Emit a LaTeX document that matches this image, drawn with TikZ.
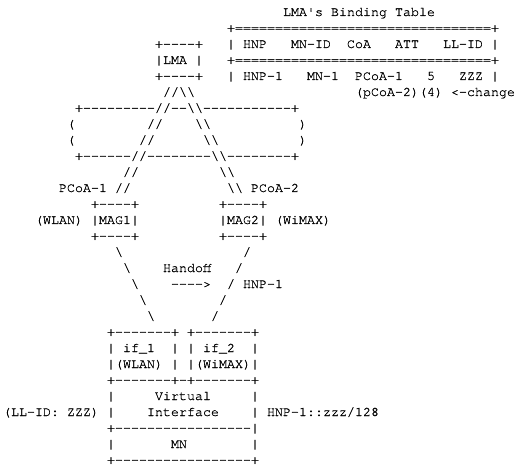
\documentclass[tikz,border=0pt]{standalone}
\usepackage{fontspec}
\setmonofont[FakeBold=0.8]{TeX Gyre Cursor}
\newcommand\bs{\textbackslash}
\newcommand\ascii[4]{\node[txt] (#1) at ({3+8*#2},{456-16*#3}) {#4};}
\begin{document}
\begin{tikzpicture}[x=1pt,y=1pt,
  txt/.style={inner sep=0pt,outer sep=0pt,anchor=base west,text=black,
              font=\ttfamily\fontsize{13.333}{16}\selectfont}]
\fill[white] (0,0) rectangle (517,472);
\useasboundingbox (0,0) rectangle (517,472);
% LMA and binding table
\ascii{r0}{35}{0}{LMA's Binding Table}
\ascii{r1}{28}{1}{+================================+}
\ascii{r2}{19}{2}{+----+~~~|~HNP~~~MN-ID~~CoA~~~ATT~~~LL-ID~|}
\ascii{r3}{19}{3}{|LMA~|~~~+================================+}
\ascii{r4}{19}{4}{+----+~~~|~HNP-1~~~MN-1~~PCoA-1~~~5~~~ZZZ~|}
\ascii{r5a}{20}{5}{//\bs\bs}
\ascii{r5b}{44}{5}{(pCoA-2)(4)~<-change}
% tunnel cloud
\ascii{r6}{9}{6}{+---------//--\bs\bs-----------+}
\ascii{r7a}{8}{7}{(}
\ascii{r7b}{18}{7}{//}
\ascii{r7c}{24}{7}{\bs\bs}
\ascii{r7d}{37}{7}{)}
\ascii{r8a}{8}{8}{(}
\ascii{r8b}{17}{8}{//}
\ascii{r8c}{25}{8}{\bs\bs}
\ascii{r8d}{37}{8}{)}
\ascii{r9}{9}{9}{+------//--------\bs\bs--------+}
\ascii{r10a}{15}{10}{//}
\ascii{r10b}{27}{10}{\bs\bs}
\ascii{r11a}{7}{11}{PCoA-1~//}
\ascii{r11b}{28}{11}{\bs\bs~PCoA-2}
% MAGs
\ascii{r12a}{11}{12}{+----+}
\ascii{r12b}{27}{12}{+----+}
\ascii{r13a}{4}{13}{(WLAN)~|MAG1|}
\ascii{r13b}{27}{13}{|MAG2|~(WiMAX)}
\ascii{r14a}{11}{14}{+----+}
\ascii{r14b}{27}{14}{+----+}
% access links
\ascii{r15a}{14}{15}{\bs}
\ascii{r15b}{30}{15}{/}
\ascii{r16a}{15}{16}{\bs}
\ascii{r16b}{20}{16}{Handoff}
\ascii{r16c}{29}{16}{/}
\ascii{r17a}{16}{17}{\bs}
\ascii{r17b}{21}{17}{---->}
\ascii{r17c}{28}{17}{/}
\ascii{r17d}{30}{17}{HNP-1}
\ascii{r18a}{17}{18}{\bs}
\ascii{r18b}{27}{18}{/}
\ascii{r19a}{18}{19}{\bs}
\ascii{r19b}{26}{19}{/}
% mobile node
\ascii{r20}{13}{20}{+-------+~+-------+}
\ascii{r21}{13}{21}{|~if\_1~~|~|~if\_2~~|}
\ascii{r22}{13}{22}{|(WLAN)~|~|(WiMAX)|}
\ascii{r23}{13}{23}{+-------+-+-------+}
\ascii{r24}{13}{24}{|~~~~~Virtual~~~~~|}
\ascii{r25}{0}{25}{(LL-ID:~ZZZ)~|~~~~Interface~~~~|~HNP-1::zzz/128}
\ascii{r26}{13}{26}{+-----------------|}
\ascii{r27}{13}{27}{|~~~~~~~MN~~~~~~~~|}
\ascii{r28}{13}{28}{+-----------------+}
\end{tikzpicture}
\end{document}
